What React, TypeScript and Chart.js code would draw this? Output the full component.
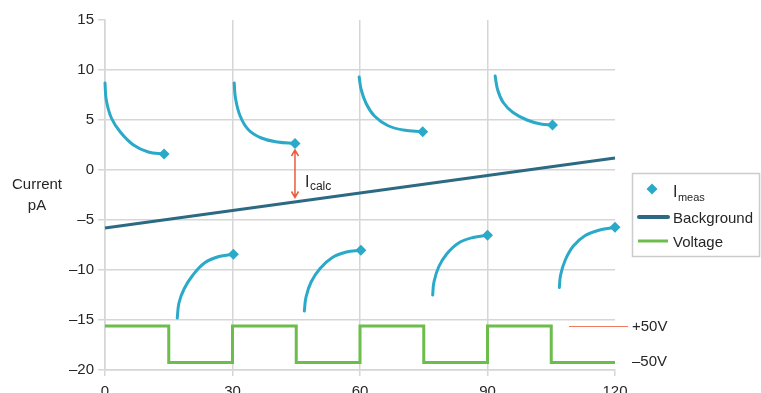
import React, { useEffect, useRef } from 'react';
import { Chart, registerables } from 'chart.js';

Chart.register(...registerables);

const FONT = '"Liberation Sans", Arial, Helvetica, sans-serif';
const TEXT = '#262626';
const GRID = '#d6d6d6';
const CYAN = '#2aa9c9';
const TEAL = '#2c6a83';
const GREEN = '#6dbd4c';
const RED = '#ea5b3d';

// axes
const xMin = 0;
const xMax = 120;
const xStep = 30;
const yMin = -20;
const yMax = 15;
const yStep = 5;

// measured current after each positive pulse (time s, current pA)
const up1T = [0, 0.3, 1.5, 3.6, 6.7, 10.2, 13.9];
const up1I = [8.7, 7.0, 5.2, 3.8, 2.5, 1.8, 1.6];
const up2T = [30.4, 30.7, 31.8, 33.8, 36.8, 40.6, 44.7];
const up2I = [8.7, 7.2, 5.4, 4.0, 3.2, 2.8, 2.65];
const up3T = [59.8, 60.3, 61.5, 63.4, 66.5, 70.2, 74.75];
const up3I = [9.3, 8.0, 6.6, 5.4, 4.45, 4.0, 3.83];
const up4T = [91.8, 92.4, 93.7, 96.0, 99.3, 102.5, 105.3];
const up4I = [9.4, 8.0, 6.75, 5.75, 5.0, 4.6, 4.5];

// measured current after each negative pulse
const dn1T = [17.0, 17.4, 18.6, 20.6, 23.4, 26.8, 30.2];
const dn1I = [-14.8, -13.3, -11.9, -10.55, -9.3, -8.65, -8.43];
const dn2T = [46.9, 47.3, 48.5, 50.6, 53.5, 56.8, 60.2];
const dn2I = [-14.1, -12.7, -11.2, -9.85, -8.75, -8.2, -8.03];
const dn3T = [77.1, 77.4, 78.5, 80.4, 83.2, 86.6, 90.0];
const dn3I = [-12.5, -11.2, -9.7, -8.4, -7.3, -6.75, -6.53];
const dn4T = [106.9, 107.2, 108.3, 110.2, 113.0, 116.4, 120];
const dn4I = [-11.75, -10.5, -9.0, -7.6, -6.55, -6.0, -5.73];

// background line
const backgroundT = [0, 120];
const backgroundI = [-5.8, 1.2];

// voltage square wave (plotted on current axis)
const voltageT = [0, 15, 30, 45, 60, 75, 90, 105, 120];
const voltageV = [-15.6, -19.25, -15.6, -19.25, -15.6, -19.25, -15.6, -19.25, -19.25];
const voltageHigh = -15.6;
const voltageLow = -19.25;

// I_calc annotation
const arrowT = 44.7;
const arrowTop = 2.0;
const arrowBottom = -2.75;

const curves: [number[], number[]][] = [
  [up1T, up1I], [up2T, up2I], [up3T, up3I], [up4T, up4I],
  [dn1T, dn1I], [dn2T, dn2I], [dn3T, dn3I], [dn4T, dn4I],
];

const toPts = (t: number[], v: number[]) => t.map((tt, i) => ({ x: tt, y: v[i] }));

const overlay = {
  id: 'overlay',
  afterDraw(chart: any) {
    const { ctx, chartArea } = chart;
    const x = chart.scales.x;
    const y = chart.scales.y;
    ctx.save();
    // y-axis title (horizontal)
    ctx.fillStyle = TEXT;
    ctx.font = `15px ${FONT}`;
    ctx.textAlign = 'center';
    ctx.textBaseline = 'alphabetic';
    ctx.fillText('Current', 37, 189);
    ctx.fillText('pA', 37, 210);

    // I_calc double arrow
    const ax = x.getPixelForValue(arrowT);
    const a1 = y.getPixelForValue(arrowTop);
    const a2 = y.getPixelForValue(arrowBottom);
    ctx.strokeStyle = RED;
    ctx.lineWidth = 1.5;
    ctx.beginPath();
    ctx.moveTo(ax, a1);
    ctx.lineTo(ax, a2);
    ctx.moveTo(ax - 3.5, a1 + 6);
    ctx.lineTo(ax, a1);
    ctx.lineTo(ax + 3.5, a1 + 6);
    ctx.moveTo(ax - 3.5, a2 - 6);
    ctx.lineTo(ax, a2);
    ctx.lineTo(ax + 3.5, a2 - 6);
    ctx.stroke();
    ctx.textAlign = 'left';
    ctx.fillStyle = TEXT;
    ctx.font = `16px ${FONT}`;
    const lx = ax + 10;
    const ly = (a1 + a2) / 2 + 13;
    ctx.fillText('I', lx, ly);
    const iw = ctx.measureText('I').width;
    ctx.font = `12px ${FONT}`;
    ctx.fillText('calc', lx + iw + 0.5, ly + 3);

    // voltage labels
    const yh = y.getPixelForValue(voltageHigh);
    const yl = y.getPixelForValue(voltageLow);
    const r = chartArea.right;
    ctx.strokeStyle = '#f07a5e';
    ctx.lineWidth = 1;
    ctx.beginPath();
    ctx.moveTo(r - 46, yh + 0.5);
    ctx.lineTo(r + 13, yh + 0.5);
    ctx.stroke();
    ctx.fillStyle = TEXT;
    ctx.font = `15px ${FONT}`;
    ctx.textBaseline = 'middle';
    ctx.fillText('+50V', r + 17, yh + 1);
    ctx.fillText('\u201350V', r + 17, yl - 1);

    // legend
    const bx = r + 17;
    const by = 173;
    ctx.strokeStyle = '#cccccc';
    ctx.lineWidth = 1.5;
    ctx.strokeRect(bx + 0.5, by + 0.5, 760 - bx - 1, 83);
    const dx = bx + 20;
    const dy = by + 16;
    ctx.fillStyle = CYAN;
    ctx.beginPath();
    ctx.moveTo(dx, dy - 5.5);
    ctx.lineTo(dx + 5.5, dy);
    ctx.lineTo(dx, dy + 5.5);
    ctx.lineTo(dx - 5.5, dy);
    ctx.closePath();
    ctx.fill();
    ctx.textBaseline = 'alphabetic';
    ctx.fillStyle = TEXT;
    ctx.font = `16px ${FONT}`;
    const tx = bx + 41;
    ctx.fillText('I', tx, by + 24);
    const w2 = ctx.measureText('I').width;
    ctx.font = `11px ${FONT}`;
    ctx.fillText('meas', tx + w2 + 0.5, by + 28);
    ctx.strokeStyle = TEAL;
    ctx.lineWidth = 4;
    ctx.lineCap = 'round';
    ctx.beginPath();
    ctx.moveTo(bx + 7, by + 44);
    ctx.lineTo(bx + 36, by + 44);
    ctx.stroke();
    ctx.strokeStyle = GREEN;
    ctx.lineWidth = 3;
    ctx.lineCap = 'butt';
    ctx.beginPath();
    ctx.moveTo(bx + 6, by + 68);
    ctx.lineTo(bx + 36, by + 68);
    ctx.stroke();
    ctx.font = `15px ${FONT}`;
    ctx.fillText('Background', tx, by + 50);
    ctx.fillText('Voltage', tx, by + 74);
    ctx.restore();
  },
};

export default function App() {
  const ref = useRef<HTMLCanvasElement | null>(null);
  useEffect(() => {
    if (!ref.current) return;
    const curveSets = curves.map(([t, v]) => ({
      label: 'Imeas',
      data: toPts(t, v),
      borderColor: CYAN,
      backgroundColor: CYAN,
      borderWidth: 3,
      tension: 0.4,
      borderCapStyle: 'round' as const,
      pointStyle: 'rectRot' as const,
      pointRadius: (c: any) => (c.dataIndex === t.length - 1 ? 5.5 : 0),
      pointBorderWidth: 0,
      pointHoverRadius: 0,
      clip: false as any,
      fill: false,
    }));
    const chart = new Chart(ref.current, {
      type: 'line',
      data: {
        datasets: [
          {
            label: 'Voltage',
            data: toPts(voltageT, voltageV),
            borderColor: GREEN,
            borderWidth: 3,
            stepped: 'before',
            pointRadius: 0,
            clip: false as any,
          },
          {
            label: 'Background',
            data: toPts(backgroundT, backgroundI),
            borderColor: TEAL,
            borderWidth: 3,
            pointRadius: 0,
            clip: false as any,
          },
          ...curveSets,
        ] as any,
      },
      options: {
        animation: false,
        responsive: false,
        devicePixelRatio: 1,
        events: [],
        layout: { padding: { left: 0, right: 146, top: 20, bottom: 0 } },
        plugins: { legend: { display: false }, tooltip: { enabled: false } },
        scales: {
          x: {
            type: 'linear',
            min: xMin,
            max: xMax,
            afterFit: (s: any) => { s.height = 23; },
            ticks: { stepSize: xStep, color: TEXT, font: { family: FONT, size: 15 }, padding: 7, maxRotation: 0 },
            grid: {
              color: (c: any) => (c.tick && c.tick.value === xMax ? 'rgba(0,0,0,0)' : GRID),
              tickColor: GRID,
              lineWidth: 1.5,
              tickLength: 6,
            },
            border: { color: GRID, width: 1.5 },
          },
          y: {
            type: 'linear',
            min: yMin,
            max: yMax,
            afterFit: (s: any) => { s.width = 105; },
            ticks: {
              stepSize: yStep,
              color: TEXT,
              font: { family: FONT, size: 15 },
              padding: 4,
              callback: (v: any) => (v < 0 ? '\u2013' + Math.abs(v) : String(v)),
            },
            grid: {
              color: (c: any) => (c.tick && c.tick.value === yMax ? 'rgba(0,0,0,0)' : GRID),
              tickColor: GRID,
              lineWidth: 1.5,
              tickLength: 7,
            },
            border: { color: GRID, width: 1.5 },
          },
        },
      },
      plugins: [overlay],
    });
    return () => chart.destroy();
  }, []);
  return (
    <div style={{ position: 'absolute', left: 0, top: 0, width: 761, height: 393, background: '#fff', overflow: 'hidden' }}>
      <canvas ref={ref} width={761} height={393} style={{ display: 'block' }} />
    </div>
  );
}
